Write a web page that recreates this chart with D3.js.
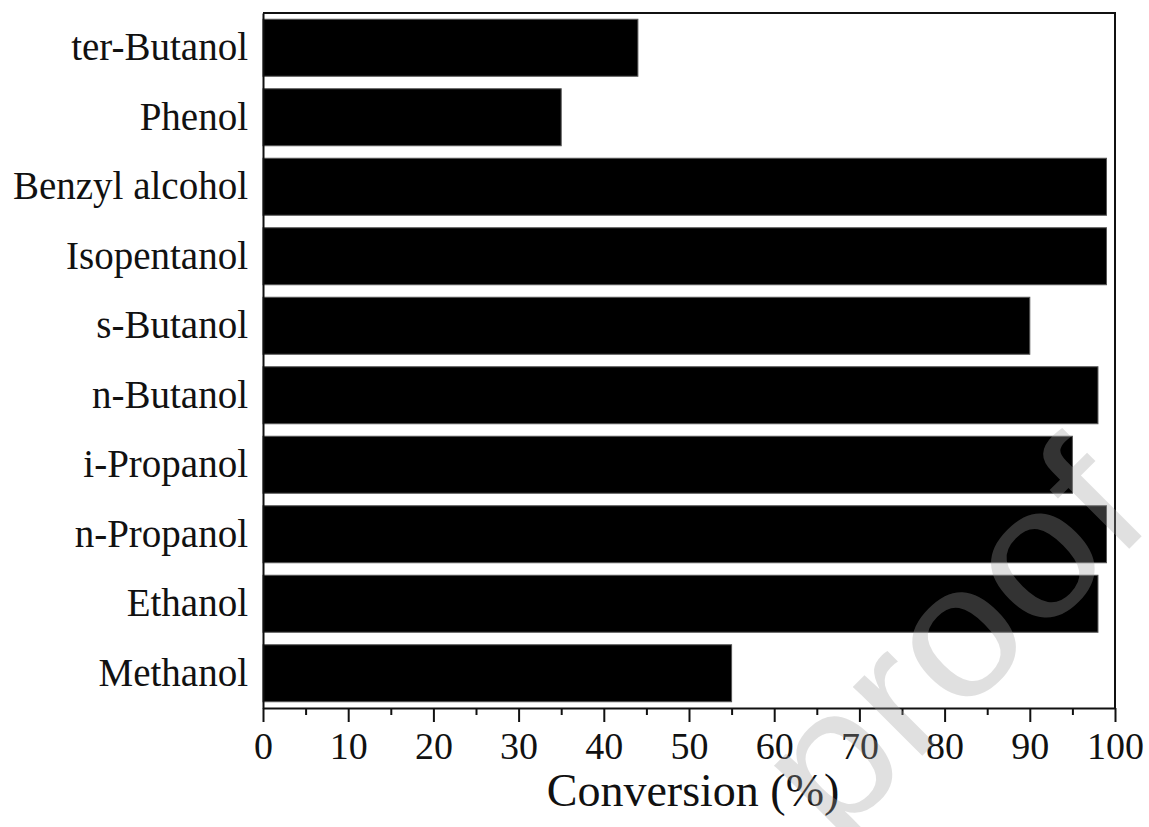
<!DOCTYPE html>
<html>
<head>
<meta charset="utf-8">
<script src="https://cdn.jsdelivr.net/npm/d3@7"></script>
<style>
  html, body { margin: 0; padding: 0; background: #fff; }
  svg { display: block; }
</style>
</head>
<body>
<svg id="chart" width="1149" height="827"></svg>
<script>
// Alcohol substrates, listed top to bottom
const alcohols = ["ter-Butanol", "Phenol", "Benzyl alcohol", "Isopentanol", "s-Butanol",
                  "n-Butanol", "i-Propanol", "n-Propanol", "Ethanol", "Methanol"];
// Conversion (%) for each substrate
const conversion = [44, 35, 99, 99, 90, 98, 95, 99, 98, 55];
// Labelled x ticks and minor ticks
const majorTicks = [0, 10, 20, 30, 40, 50, 60, 70, 80, 90, 100];
const minorTicks = [5, 15, 25, 35, 45, 55, 65, 75, 85, 95];
const xTitle = "Conversion (%)";
const stamp = "proof";

const svg = d3.select("#chart");
const serif = "'Liberation Serif', 'Times New Roman', serif";
const plotL = 263, plotR = 1115, plotT = 13, plotB = 708;

const x = d3.scaleLinear().domain([0, 100]).range([plotL, plotR]);
const y = d3.scaleBand().domain(alcohols).range([plotT, plotB])
  .paddingInner(0.18).paddingOuter(0.09);

// bars
svg.append("g").selectAll("rect")
  .data(alcohols.map((a, i) => ({ name: a, value: conversion[i] })))
  .join("rect")
  .attr("x", x(0))
  .attr("y", d => y(d.name))
  .attr("width", d => x(d.value) - x(0))
  .attr("height", y.bandwidth())
  .attr("fill", "#000")
  .attr("stroke", "#555")
  .attr("stroke-width", 1);

// frame: top and right edges
svg.append("path")
  .attr("d", `M${plotL},${plotT}H${plotR}V${plotB}`)
  .attr("fill", "none").attr("stroke", "#111").attr("stroke-width", 2);

// x axis with major (labelled) ticks
const xAxis = svg.append("g")
  .attr("transform", `translate(0,${plotB})`)
  .call(d3.axisBottom(x).tickValues(majorTicks).tickFormat(d3.format("d"))
    .tickSize(14).tickSizeOuter(0).tickPadding(10));
xAxis.select(".domain").attr("stroke", "#111").attr("stroke-width", 2);
xAxis.selectAll(".tick line").attr("stroke", "#111").attr("stroke-width", 2);
xAxis.selectAll(".tick text")
  .attr("font-family", serif).attr("font-size", 38).attr("fill", "#111");

// minor ticks
svg.append("g")
  .attr("transform", `translate(0,${plotB})`)
  .call(d3.axisBottom(x).tickValues(minorTicks).tickFormat("").tickSize(7).tickSizeOuter(0))
  .call(g => g.select(".domain").remove())
  .selectAll(".tick line").attr("stroke", "#111").attr("stroke-width", 2);

// y axis (category labels, no ticks)
const yAxis = svg.append("g")
  .attr("transform", `translate(${plotL},0)`)
  .call(d3.axisLeft(y).tickSize(0).tickPadding(15));
yAxis.select(".domain").attr("stroke", "#111").attr("stroke-width", 2);
yAxis.selectAll(".tick text")
  .attr("font-family", serif).attr("font-size", 39).attr("fill", "#111");

// x axis title
svg.append("text")
  .attr("x", (plotL + plotR) / 2 + 4)
  .attr("y", 806)
  .attr("text-anchor", "middle")
  .attr("font-family", serif)
  .attr("font-size", 46)
  .attr("fill", "#111")
  .text(xTitle);

// diagonal stamp
svg.append("text")
  .attr("transform", "translate(834,844) rotate(-45) scale(1.08,1)")
  .attr("font-family", "'Liberation Sans', Arial, sans-serif")
  .attr("font-size", 185)
  .attr("fill", "#9e9e9e")
  .attr("fill-opacity", 0.32)
  .text(stamp);
</script>
</body>
</html>
